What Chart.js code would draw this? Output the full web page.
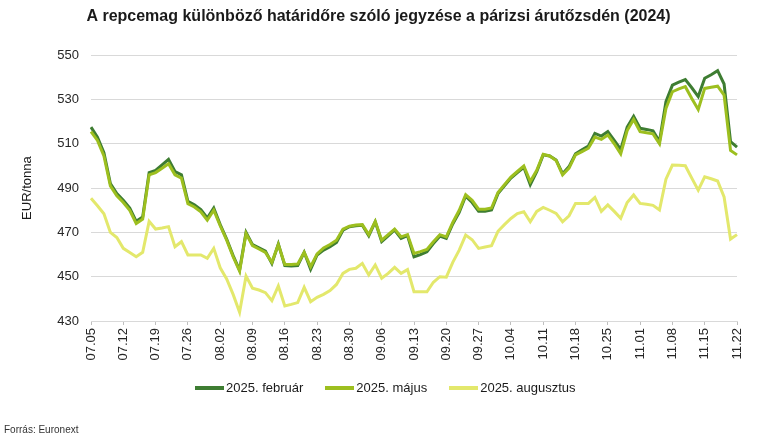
<!DOCTYPE html>
<html lang="hu">
<head>
  <meta charset="UTF-8">
  <title>Repcemag jegyzések</title>
  <style>
    body {
      margin: 0;
      background-color: #ffffff;
    }

    * {
      font-family: 'Liberation Sans', Arial, sans-serif;
    }

    #wrap {
      position: relative;
      width: 770px;
      height: 435px;
    }

    #legend {
      position: absolute;
      left: 195px;
      top: 380px;
      display: flex;
      flex-direction: row;
      align-items: center;
      font-size: 13px;
      color: #1a1a1a;
      line-height: 16px;
    }

    .item {
      display: flex;
      align-items: center;
      margin-right: 22px;
    }

    .swatch {
      width: 29px;
      height: 4px;
      margin-right: 2px;
    }

    #source {
      position: absolute;
      left: 4px;
      top: 424px;
      font-size: 10px;
      color: #333333;
    }
  </style>
</head>
<body>
  <div id="wrap">
    <canvas id="chart"></canvas>
    <div id="legend"></div>
    <div id="source">Forrás: Euronext</div>
  </div>
  <script src="https://cdn.jsdelivr.net/npm/chart.js@4.4.1/dist/chart.umd.min.js"></script>
  <script>
    // trading days, 2024
    const dates = [
      '07.05', '07.08', '07.09', '07.10', '07.11', '07.12', '07.15', '07.16', '07.17', '07.18',
      '07.19', '07.22', '07.23', '07.24', '07.25', '07.26', '07.29', '07.30', '07.31', '08.01',
      '08.02', '08.05', '08.06', '08.07', '08.08', '08.09', '08.12', '08.13', '08.14', '08.15',
      '08.16', '08.19', '08.20', '08.21', '08.22', '08.23', '08.26', '08.27', '08.28', '08.29',
      '08.30', '09.02', '09.03', '09.04', '09.05', '09.06', '09.09', '09.10', '09.11', '09.12',
      '09.13', '09.16', '09.17', '09.18', '09.19', '09.20', '09.23', '09.24', '09.25', '09.26',
      '09.27', '09.30', '10.01', '10.02', '10.03', '10.04', '10.07', '10.08', '10.09', '10.10',
      '10.11', '10.14', '10.15', '10.16', '10.17', '10.18', '10.21', '10.22', '10.23', '10.24',
      '10.25', '10.28', '10.29', '10.30', '10.31', '11.01', '11.04', '11.05', '11.06', '11.07',
      '11.08', '11.11', '11.12', '11.13', '11.14', '11.15', '11.18', '11.19', '11.20', '11.21',
      '11.22'
    ]

    // labelled dates on the x axis (Fridays)
    const tickLabels = [
      '07.05', '07.12', '07.19', '07.26', '08.02', '08.09', '08.16', '08.23', '08.30', '09.06',
      '09.13', '09.20', '09.27', '10.04', '10.11', '10.18', '10.25', '11.01', '11.08', '11.15',
      '11.22'
    ]

    const yTicks = [430, 450, 470, 490, 510, 530, 550]

    // EUR/tonna
    const feb2025 = [
      517.5, 513, 506, 492, 487.5, 484.5, 481, 475, 477, 497,
      498, 500.5, 503, 497.5, 496, 484, 482.5, 480.3, 476.5, 481,
      473.5, 467, 459.5, 453, 470, 464.5, 463, 461.5, 456, 464.8,
      455, 454.8, 455, 461, 453.3, 459.8, 462, 463.5, 465.5, 471,
      472.6, 473, 473.2, 468.5, 474.8, 465.8, 468.4, 471.1, 467.3, 468.5,
      459, 460, 461.3, 465, 468.3, 467.3, 473.8, 479, 486.4, 483.5,
      479.5, 479.5, 480.1, 487.5, 491, 494.5, 497, 499.4, 491.5, 497.4,
      505, 504.5, 502.7, 496.5, 499.7, 505.5, 507.3, 509, 514.7, 513.5,
      515.5, 511.5, 507.5, 517.5, 522.4, 517, 516.5, 515.9, 511, 529,
      536.5, 537.8, 539, 535.3, 531.3, 539.6, 541.2, 543, 537, 511,
      508.5
    ]

    const maj2025 = [
      515.5, 511.5, 504.5, 491, 486.5, 483.5, 480, 474, 476, 496,
      497, 499, 501, 496, 494.5, 483, 481.5, 479.3, 475.5, 480,
      473, 466.5, 459, 452.5, 469.5, 464, 462.5, 461, 456.5, 464.5,
      455.5, 455.5, 455.7, 461, 454.5, 460.3, 463, 464.5, 466.5, 471.5,
      472.8, 473.3, 473.5, 469, 475, 466.5, 469, 471.5, 468, 469,
      460.5, 461.3, 462.3, 465.8, 469, 468, 474.5, 480, 487, 484.5,
      480.5, 480.5, 481, 488, 491.5, 495, 497.5, 500, 493, 498,
      505.3, 504.5, 502.5, 496, 499, 505, 506.5, 508, 513, 512,
      514, 510, 505.5, 516, 521, 515.5, 515, 514.5, 510, 526,
      533.5, 534.8, 535.8, 530.5, 525.5, 535, 535.5, 536, 532, 507,
      505
    ]

    const aug2025 = [
      485.4, 482, 478.4, 470, 467.7, 462.8, 460.9, 459, 461, 475,
      471.5, 472, 472.6, 463.5, 465.8, 459.8, 459.8, 459.8, 458.3, 462.8,
      454, 449, 442, 434, 450.3, 444.8, 444, 442.8, 439.2, 445.8,
      436.8, 437.5, 438.3, 445.2, 438.7, 440.7, 442, 443.7, 446.5, 451.5,
      453.3, 453.8, 456, 450.8, 455.3, 449.3, 451.5, 454.2, 451.5, 453.2,
      443.2, 443.2, 443.2, 447.5, 450, 449.8, 456.5, 462, 468.8, 466.7,
      462.8, 463.4, 464, 470.5, 473.5, 476.3, 478.5, 479.3, 474.8, 479.5,
      481.3, 480, 478.6, 474.8, 477.5, 483.1, 483.1, 483.1, 485.8, 479.5,
      482.4, 479.5, 476.4, 483.5, 486.9, 483.1, 482.7, 482.2, 480.1, 494,
      500.4, 500.3, 500.1, 494.5, 489.1, 495.1, 494.2, 493.2, 486, 467,
      469
    ]

    const font = "'Liberation Sans', Arial, sans-serif"

    const line = (label, data, color, order) => ({
      label: label,
      data: data,
      borderColor: color,
      backgroundColor: color,
      borderWidth: 3,
      pointRadius: 0,
      tension: 0,
      order: order
    })

    const datasets = [
      line('2025. február', feb2025, '#3e7d32', 1),
      line('2025. május', maj2025, '#9dbf1f', 0),
      line('2025. augusztus', aug2025, '#e3e86c', 2)
    ]

    // legend as html, line swatch right next to the text
    document.getElementById('legend').innerHTML = datasets.map(d => `
      <div class="item">
        <div class="swatch" style="background:${d.borderColor}"></div>
        <span>${d.label}</span>
      </div>`).join('')

    const ctx = document.getElementById('chart').getContext('2d')
    new Chart(ctx, {
      type: 'line',
      data: {
        labels: dates,
        datasets: datasets
      },
      options: {
        responsive: true,
        maintainAspectRatio: false,
        animation: false,
        layout: {
          padding: { left: 20, right: 33, top: 0, bottom: 68 }
        },
        plugins: {
          title: {
            display: true,
            text: 'A repcemag különböző határidőre szóló jegyzése a párizsi árutőzsdén (2024)',
            color: '#1a1a1a',
            font: { family: font, size: 16, weight: 'bold' },
            padding: { top: 7, bottom: 29 }
          },
          legend: { display: false },
          tooltip: { enabled: false }
        },
        scales: {
          x: {
            grid: {
              drawOnChartArea: false,
              drawTicks: true,
              tickLength: 4,
              color: '#bfbfbf'
            },
            border: { display: true, color: '#d9d9d9' },
            ticks: {
              autoSkip: false,
              maxRotation: 90,
              minRotation: 90,
              color: '#262626',
              font: { family: font, size: 13 },
              padding: 3,
              callback: (v, i) => tickLabels.includes(dates[i]) ? dates[i] : null
            },
            afterFit: (s) => { s.height = 46 }
          },
          y: {
            min: yTicks[0],
            max: yTicks[yTicks.length - 1],
            afterBuildTicks: (s) => { s.ticks = yTicks.map(v => ({ value: v })) },
            afterFit: (s) => { s.width = 71 },
            grid: { color: '#d9d9d9', drawTicks: false },
            border: { display: false },
            ticks: {
              color: '#262626',
              font: { family: font, size: 13 },
              padding: 12
            },
            title: {
              display: true,
              text: 'EUR/tonna',
              color: '#1a1a1a',
              font: { family: font, size: 13 },
              padding: 0
            }
          }
        }
      }
    })
  </script>
</body>
</html>
